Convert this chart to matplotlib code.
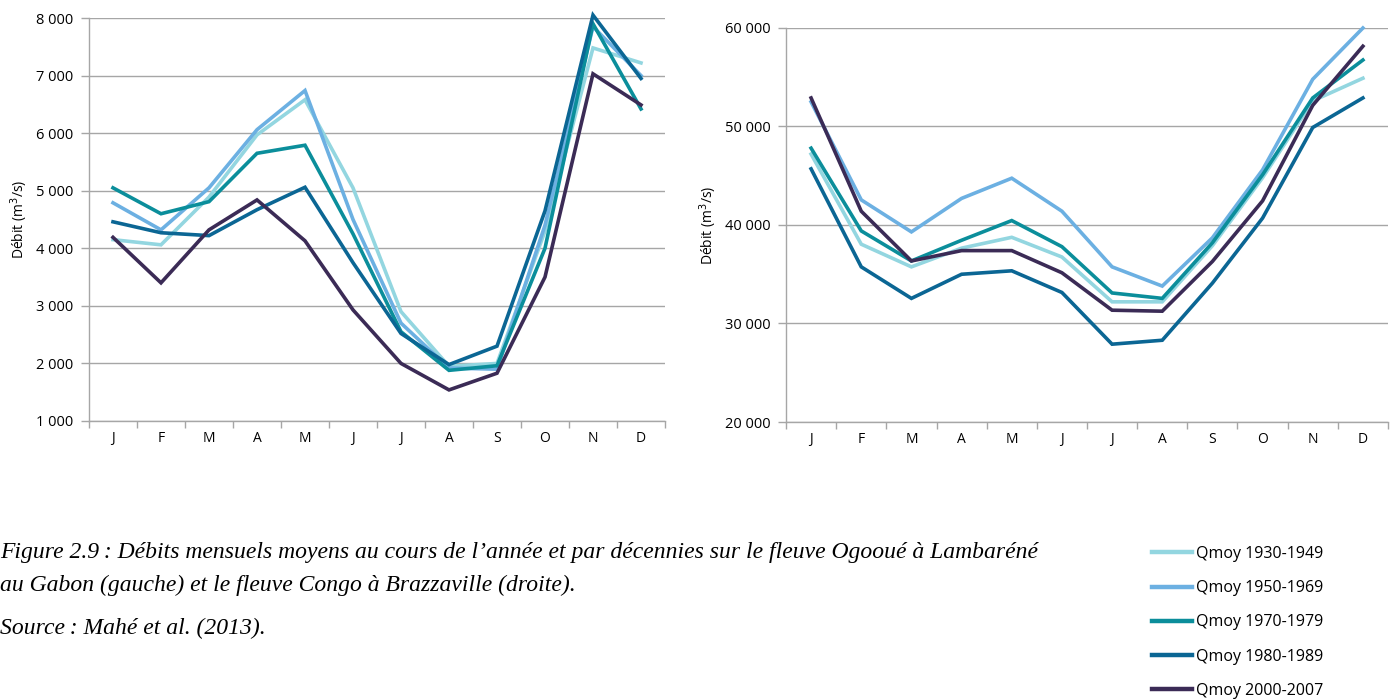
import numpy as np
import matplotlib
matplotlib.use("Agg")
import matplotlib.pyplot as plt
from matplotlib.ticker import FuncFormatter, FixedLocator

# ─── DATA ────────────────────────────────────────────────────────────────────
months = ["J", "F", "M", "A", "M", "J", "J", "A", "S", "O", "N", "D"]
series_labels = ["Qmoy 1930-1949", "Qmoy 1950-1969", "Qmoy 1970-1979",
                 "Qmoy 1980-1989", "Qmoy 2000-2007"]

# Ogooué à Lambaréné (m3/s)
ogooue_1930 = [4150, 4060, 4890, 5970, 6580, 5050, 2900, 1950, 2000, 4300, 7480, 7220]
ogooue_1950 = [4790, 4320, 5050, 6060, 6740, 4500, 2700, 1920, 1900, 4400, 7850, 7000]
ogooue_1970 = [5050, 4600, 4810, 5650, 5790, 4250, 2550, 1880, 1960, 4000, 7900, 6420]
ogooue_1980 = [4460, 4270, 4220, 4670, 5060, 3750, 2520, 1980, 2300, 4650, 8050, 6950]
ogooue_2000 = [4190, 3400, 4320, 4840, 4130, 2930, 2000, 1540, 1830, 3500, 7030, 6490]

# Congo à Brazzaville (m3/s)
congo_1930 = [47200, 38050, 35750, 37650, 38750, 36750, 32200, 32200, 37900, 44800, 52600, 54900]
congo_1950 = [52500, 42550, 39300, 42700, 44750, 41400, 35750, 33800, 38700, 45600, 54800, 60000]
congo_1970 = [47800, 39400, 36350, 38450, 40450, 37800, 33100, 32550, 38200, 45100, 52900, 56750]
congo_1980 = [45700, 35750, 32550, 35000, 35350, 33150, 27900, 28300, 34100, 40700, 49900, 52900]
congo_2000 = [52900, 41400, 36350, 37400, 37400, 35150, 31350, 31250, 36300, 42450, 52150, 58150]

colors = ["#93d6e0", "#6cb0e2", "#0b8e9b", "#0b6694", "#3b2b56"]

# ─── FIGURE ──────────────────────────────────────────────────────────────────
plt.rcParams["font.family"] = ["Open Sans", "DejaVu Sans"]
fig = plt.figure(figsize=(13.94, 7.0), dpi=100)

ax1 = fig.add_axes([89/1394, 1-421/700, 576/1394, 403/700])
ax2 = fig.add_axes([786/1394, 1-422/700, 602/1394, 394/700])

grid_col = "#a6a6a6"
fmt = FuncFormatter(lambda v, p: f"{v:,.0f}".replace(",", " "))


def draw(ax, data, ylim, ystep):
    x = np.arange(len(months))
    lines = []
    for vals, col, lab in zip(data, colors, series_labels):
        ln, = ax.plot(x, vals, color=col, lw=2.6, label=lab,
                      solid_joinstyle="miter", clip_on=False, zorder=3)
        lines.append(ln)
    ax.set_xlim(-0.5, len(months) - 0.5)
    ax.set_ylim(*ylim)
    ax.set_yticks(np.arange(ylim[0], ylim[1] + 1, ystep))
    ax.yaxis.set_major_formatter(fmt)
    ax.xaxis.set_major_locator(FixedLocator(np.arange(-0.5, len(months), 1.0)))
    ax.xaxis.set_major_formatter(FuncFormatter(lambda v, p: ""))
    ax.set_xticks(x, minor=True)
    ax.set_xticklabels(months, minor=True)
    ax.tick_params(axis="x", which="minor", length=0, pad=7, labelsize=10)
    ax.tick_params(axis="x", which="major", length=5, color=grid_col, width=1)
    ax.tick_params(axis="y", length=6, color=grid_col, width=1, labelsize=10.5, pad=5)
    ax.grid(axis="y", color=grid_col, lw=1)
    ax.set_axisbelow(True)
    for s in ["top", "right"]:
        ax.spines[s].set_visible(False)
    for s in ["left", "bottom"]:
        ax.spines[s].set_color(grid_col)
        ax.spines[s].set_linewidth(1)
    ax.set_ylabel("Débit (m$^3$/s)", fontsize=10)
    return lines


lines = draw(ax1, [ogooue_1930, ogooue_1950, ogooue_1970, ogooue_1980, ogooue_2000],
             (1000, 8000), 1000)
draw(ax2, [congo_1930, congo_1950, congo_1970, congo_1980, congo_2000],
     (20000, 60000), 10000)
ax1.yaxis.set_label_coords(-0.102, 0.5)
ax2.yaxis.set_label_coords(-0.111, 0.5)

# ─── LEGEND ──────────────────────────────────────────────────────────────────
leg = fig.legend(handles=lines, loc="upper left",
                 bbox_to_anchor=(1152/1394, 1-546/700),
                 frameon=False, fontsize=11.5, handlelength=2.5,
                 handletextpad=0.25, labelspacing=1.14, borderaxespad=0,
                 borderpad=0)
for h in leg.get_lines():
    h.set_linewidth(3.2)

# ─── CAPTION ─────────────────────────────────────────────────────────────────
cap = dict(family=["Liberation Serif", "DejaVu Serif"], style="italic",
           fontsize=17, va="baseline", ha="left")
fig.text(0.0, 1-558/700,
         "Figure 2.9\u2009: Débits mensuels moyens au cours de l’année et par décennies "
         "sur le fleuve Ogooué à Lambaréné", **cap)
fig.text(0.0, 1-591/700,
         "au Gabon (gauche) et le fleuve Congo à Brazzaville (droite).", **cap)
fig.text(0.0, 1-634/700, "Source\u2009: Mahé et al. (2013).", **cap)

fig.savefig("out.png", dpi=100)
